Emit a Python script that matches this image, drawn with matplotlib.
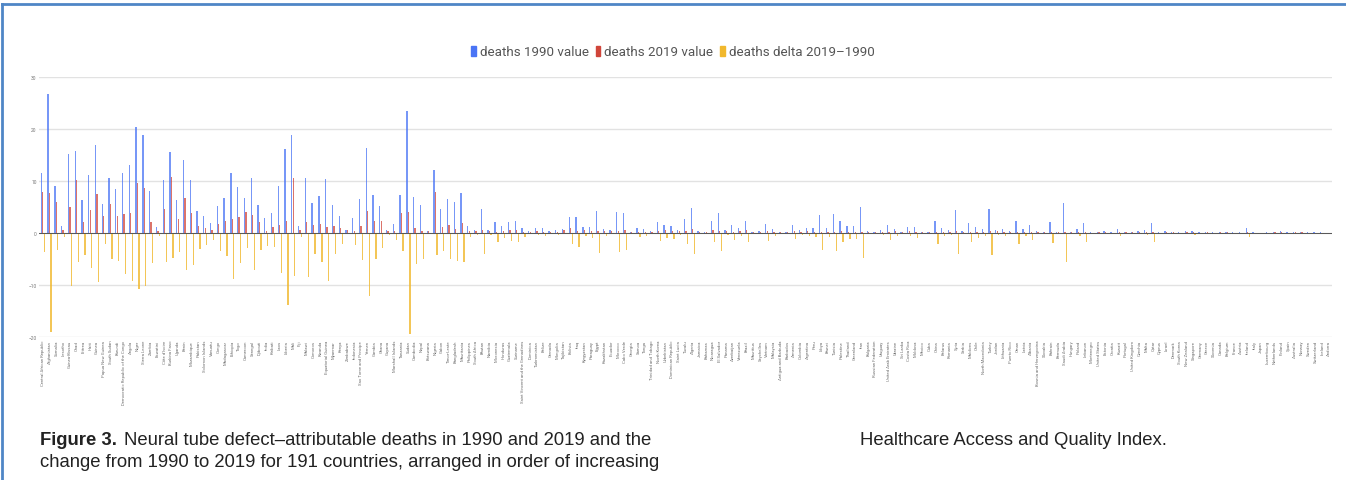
import matplotlib.pyplot as plt
import numpy as np
from matplotlib.patches import Patch
from matplotlib.lines import Line2D

# countries ordered by increasing HAQ index
countries = [
    "Central African Republic", "Afghanistan", "Somalia", "Lesotho", "Guinea-Bissau",
    "Chad", "Eritrea", "Haiti", "Guinea", "Papua New Guinea",
    "South Sudan", "Burundi", "Democratic Republic of the Congo", "Angola", "Niger",
    "Sierra Leone", "Zambia", "Eswatini", "Côte d'Ivoire", "Burkina Faso",
    "Uganda", "Benin", "Mozambique", "Pakistan", "Solomon Islands",
    "Vanuatu", "Congo", "Madagascar", "Ethiopia", "Togo",
    "Cameroon", "Senegal", "Djibouti", "India", "Kiribati",
    "Laos", "Liberia", "Mali", "Fiji", "Malawi",
    "Comoros", "Rwanda", "Equatorial Guinea", "Myanmar", "Kenya",
    "Zimbabwe", "Indonesia", "Sao Tome and Principe", "Yemen", "Gambia",
    "Ghana", "Guyana", "Marshall Islands", "Tanzania", "Sudan",
    "Cambodia", "Nepal", "Botswana", "Nigeria", "Gabon",
    "Timor-Leste", "Bangladesh", "Mauritania", "Philippines", "South Africa",
    "Bhutan", "Namibia", "Micronesia", "Honduras", "Guatemala",
    "Suriname", "Saint Vincent and the Grenadines", "Dominica", "Turkmenistan", "Belize",
    "Grenada", "Mongolia", "Tajikistan", "Bolivia", "Iraq",
    "Kyrgyzstan", "Paraguay", "Egypt", "Kazakhstan", "Ecuador",
    "Morocco", "Cabo Verde", "Georgia", "Samoa", "Tonga",
    "Trinidad and Tobago", "North Korea", "Uzbekistan", "Dominican Republic", "Saint Lucia",
    "Tuvalu", "Algeria", "Jamaica", "Bahamas", "Nicaragua",
    "El Salvador", "Panama", "Azerbaijan", "Venezuela", "Brazil",
    "Mauritius", "Seychelles", "Vietnam", "Malaysia", "Antigua and Barbuda",
    "Barbados", "Armenia", "Colombia", "Argentina", "Peru",
    "Libya", "Brunei", "Tunisia", "Palestine", "Thailand",
    "Greenland", "Iran", "Bulgaria", "Russian Federation", "Uruguay",
    "United Arab Emirates", "Ukraine", "Sri Lanka", "Costa Rica", "Moldova",
    "Mexico", "Cuba", "China", "Belarus", "Romania",
    "Syria", "Serbia", "Maldives", "Chile", "North Macedonia",
    "Turkey", "Jordan", "Lithuania", "Puerto Rico", "Oman",
    "Latvia", "Albania", "Bosnia and Herzegovina", "Slovakia", "Bahrain",
    "Bermuda", "Saudi Arabia", "Hungary", "Poland", "Lebanon",
    "Montenegro", "United States", "Estonia", "Croatia", "Kuwait",
    "Portugal", "United Kingdom", "Czechia", "Malta", "Qatar",
    "Cyprus", "Israel", "Denmark", "South Korea", "New Zealand",
    "Singapore", "Germany", "Greece", "Slovenia", "Canada",
    "Belgium", "France", "Austria", "Ireland", "Italy",
    "Japan", "Luxembourg", "Netherlands", "Finland", "Spain",
    "Australia", "Norway", "Sweden", "Switzerland", "Iceland",
    "Andorra",
]

deaths_1990 = [
    11.5, 26.8, 9.1, 1.3, 15.1, 15.8, 6.3, 11.2, 17.0, 5.5,
    10.5, 8.5, 11.5, 13.0, 20.3, 18.8, 8.0, 1.1, 10.1, 15.6,
    6.3, 14.0, 10.1, 4.3, 3.2, 1.9, 5.1, 6.8, 11.5, 8.8,
    6.8, 10.6, 5.3, 2.9, 3.9, 9.1, 16.2, 18.8, 1.3, 10.6,
    5.7, 7.2, 10.4, 5.4, 3.2, 0.6, 2.8, 6.5, 16.4, 7.3,
    5.2, 0.6, 1.7, 7.3, 23.5, 6.9, 5.4, 0.45, 12.1, 4.7,
    6.5, 6.0, 7.6, 1.3, 0.6, 4.6, 0.65, 2.05, 1.35, 2.1,
    2.4, 1.0, 0.3, 0.9, 0.9, 0.4, 0.65, 0.8, 3.1, 3.1,
    1.2, 1.2, 4.2, 0.8, 0.6, 4.0, 3.9, 0.2, 1.0, 0.7,
    0.3, 2.05, 1.5, 1.4, 0.65, 2.6, 4.9, 0.3, 0.2, 2.3,
    3.85, 0.6, 1.5, 0.9, 2.3, 0.2, 0.45, 1.8, 0.8, 0.15,
    0.15, 1.5, 0.6, 1.0, 1.0, 3.5, 1.0, 3.65, 2.25, 1.3,
    1.4, 5.0, 0.4, 0.2, 0.6, 1.5, 0.8, 0.2, 1.1, 1.2,
    0.15, 0.15, 2.3, 0.9, 0.6, 4.4, 0.3, 1.9, 1.15, 0.8,
    4.7, 0.6, 0.85, 0.3, 2.25, 0.7, 1.6, 0.3, 0.15, 2.2,
    0.15, 5.8, 0.2, 0.7, 2.0, 0.1, 0.2, 0.3, 0.1, 0.85,
    0.2, 0.2, 0.3, 0.6, 2.0, 0.1, 0.45, 0.25, 0.1, 0.45,
    0.45, 0.1, 0.2, 0.1, 0.2, 0.15, 0.1, 0.1, 0.9, 0.1,
    0.05, 0.1, 0.2, 0.45, 0.1, 0.2, 0.2, 0.1, 0.1, 0.1,
    0.05,
]

deaths_2019 = [
    7.9, 7.7, 5.9, 0.6, 5.0, 10.2, 2.1, 4.5, 7.5, 3.3,
    5.5, 3.2, 3.6, 3.8, 9.6, 8.7, 2.2, 0.45, 4.6, 10.8,
    2.7, 6.8, 3.9, 1.3, 0.9, 0.6, 1.7, 2.4, 2.7, 3.0,
    4.0, 3.5, 2.1, 0.45, 1.2, 1.5, 2.4, 10.6, 0.6, 2.2,
    1.6, 1.7, 1.2, 1.3, 1.0, 0.6, 0.45, 1.3, 4.2, 2.3,
    2.4, 0.3, 0.45, 3.8, 4.0, 1.0, 0.45, 0.3, 7.9, 1.2,
    1.5, 0.7, 2.0, 0.45, 0.3, 0.6, 0.3, 0.25, 0.45, 0.65,
    0.6, 0.25, 0.25, 0.45, 0.25, 0.2, 0.25, 0.6, 1.0, 0.4,
    0.6, 0.3, 0.3, 0.3, 0.4, 0.3, 0.6, 0.2, 0.25, 0.2,
    0.2, 0.45, 0.6, 0.3, 0.3, 0.45, 0.8, 0.25, 0.1, 0.5,
    0.4, 0.3, 0.25, 0.4, 0.65, 0.1, 0.2, 0.3, 0.25, 0.1,
    0.1, 0.4, 0.25, 0.4, 0.2, 0.25, 0.25, 0.25, 0.45, 0.2,
    0.2, 0.2, 0.15, 0.1, 0.25, 0.2, 0.3, 0.1, 0.45, 0.2,
    0.1, 0.1, 0.2, 0.25, 0.25, 0.3, 0.1, 0.25, 0.2, 0.25,
    0.45, 0.3, 0.2, 0.2, 0.2, 0.2, 0.25, 0.2, 0.1, 0.2,
    0.1, 0.2, 0.15, 0.2, 0.2, 0.05, 0.15, 0.1, 0.05, 0.2,
    0.1, 0.1, 0.1, 0.2, 0.2, 0.05, 0.2, 0.1, 0.05, 0.2,
    0.15, 0.05, 0.1, 0.05, 0.1, 0.1, 0.05, 0.05, 0.2, 0.05,
    0.03, 0.05, 0.1, 0.2, 0.05, 0.1, 0.1, 0.05, 0.05, 0.05,
    0.03,
]

deaths_delta = [
    -3.6, -19.1, -3.2, -0.7, -10.1, -5.6, -4.2, -6.7, -9.5, -2.2,
    -5.0, -5.3, -7.9, -9.2, -10.7, -10.1, -5.8, -0.65, -5.5, -4.8,
    -3.6, -7.2, -6.2, -3.0, -2.3, -1.3, -3.4, -4.4, -8.8, -5.8,
    -2.8, -7.1, -3.2, -2.45, -2.7, -7.6, -13.8, -8.2, -0.7, -8.4,
    -4.1, -5.5, -9.2, -4.1, -2.2, 0.0, -2.35, -5.2, -12.2, -5.0,
    -2.8, -0.3, -1.25, -3.5, -19.5, -5.9, -4.95, -0.15, -4.2, -3.5,
    -5.0, -5.3, -5.6, -0.85, -0.3, -4.0, -0.35, -1.8, -0.9, -1.45,
    -1.8, -0.75, -0.05, -0.45, -0.65, -0.2, -0.4, -0.2, -2.1, -2.7,
    -0.6, -0.9, -3.9, -0.5, -0.2, -3.7, -3.3, 0.0, -0.75, -0.5,
    -0.1, -1.6, -0.9, -1.1, -0.35, -2.15, -4.1, -0.05, -0.1, -1.8,
    -3.45, -0.3, -1.25, -0.5, -1.65, -0.1, -0.25, -1.5, -0.55, -0.05,
    -0.05, -1.1, -0.35, -0.6, -0.8, -3.25, -0.75, -3.4, -1.8, -1.1,
    -1.2, -4.8, -0.25, -0.1, -0.35, -1.3, -0.5, -0.1, -0.65, -1.0,
    -0.05, -0.05, -2.1, -0.65, -0.35, -4.1, -0.2, -1.65, -0.95, -0.55,
    -4.25, -0.3, -0.65, -0.1, -2.05, -0.5, -1.35, -0.1, -0.05, -2.0,
    -0.05, -5.6, -0.05, -0.5, -1.8, -0.05, -0.05, -0.2, -0.05, -0.65,
    -0.1, -0.1, -0.2, -0.4, -1.8, -0.05, -0.25, -0.15, -0.05, -0.25,
    -0.3, -0.05, -0.1, -0.05, -0.1, -0.05, -0.05, -0.05, -0.7, -0.05,
    -0.02, -0.05, -0.1, -0.25, -0.05, -0.1, -0.1, -0.05, -0.05, -0.05,
    -0.02,
]

series_names = ["deaths 1990 value", "deaths 2019 value", "deaths delta 2019\u20131990"]
series_colors = ["#4a74f5", "#d0453a", "#f1b82d"]

plt.rcParams['font.family'] = ['Roboto', 'DejaVu Sans']

fig = plt.figure(figsize=(13.46, 4.81), dpi=100)
ax = fig.add_axes([0.0293, 0.2973, 0.9606, 0.5405])

x = np.arange(len(countries))
w = 0.19
ax.bar(x - 0.22, deaths_1990, w, color=series_colors[0], alpha=0.75, linewidth=0)
ax.bar(x, deaths_2019, w, color=series_colors[1], alpha=0.75, linewidth=0)
ax.bar(x + 0.22, deaths_delta, w, color=series_colors[2], alpha=0.8, linewidth=0)

ax.set_xlim(-0.5, len(countries) - 0.5)
ax.set_ylim(-20, 30)
ax.set_yticks(range(-20, 31, 10))
ax.grid(axis='y', color='#e2e2e2', lw=1)
ax.set_axisbelow(True)
ax.axhline(0, color='#555555', lw=0.7)
for s in ax.spines.values():
    s.set_visible(False)
ax.tick_params(length=0, labelsize=3.5, colors='#777777', pad=2)
ax.set_xticks(x)
ax.set_xticklabels(countries, rotation=90, fontsize=3.1, color='#707070')

# legend across the top
handles = [Patch(color=c) for c in series_colors]
fig.legend(handles, series_names, loc='center', bbox_to_anchor=(0.5, 1 - 53 / 481),
           ncol=3, frameon=False, fontsize=9.6, handlelength=0.35, handleheight=0.8,
           handletextpad=0.3, columnspacing=0.5, labelcolor='#555555')

# page frame edges
frame_color = '#4f86c6'
fig.add_artist(Line2D([0.0015, 0.0015], [0, 0.99], transform=fig.transFigure,
                      color=frame_color, lw=2))
fig.add_artist(Line2D([0.0015, 1], [0.989, 0.989], transform=fig.transFigure,
                      color=frame_color, lw=2))

# caption
cap_kw = dict(fontsize=13.3, color='#222222', family=['Liberation Sans', 'DejaVu Sans'],
              va='center', ha='left')
y1 = 1 - 441 / 481
y2 = 1 - 463 / 481
t = fig.text(40 / 1346, y1, "Figure 3.", fontweight='bold', **cap_kw)
renderer = fig.canvas.get_renderer()
bb = t.get_window_extent(renderer)
fig.text(bb.x1 / fig.bbox.width + 7 / 1346, y1,
         "Neural tube defect\u2013attributable deaths in 1990 and 2019 and the", **cap_kw)
fig.text(40 / 1346, y2,
         "change from 1990 to 2019 for 191 countries, arranged in order of increasing", **cap_kw)
fig.text(860 / 1346, y1, "Healthcare Access and Quality Index.", **cap_kw)

fig.savefig('out.png', dpi=100)
